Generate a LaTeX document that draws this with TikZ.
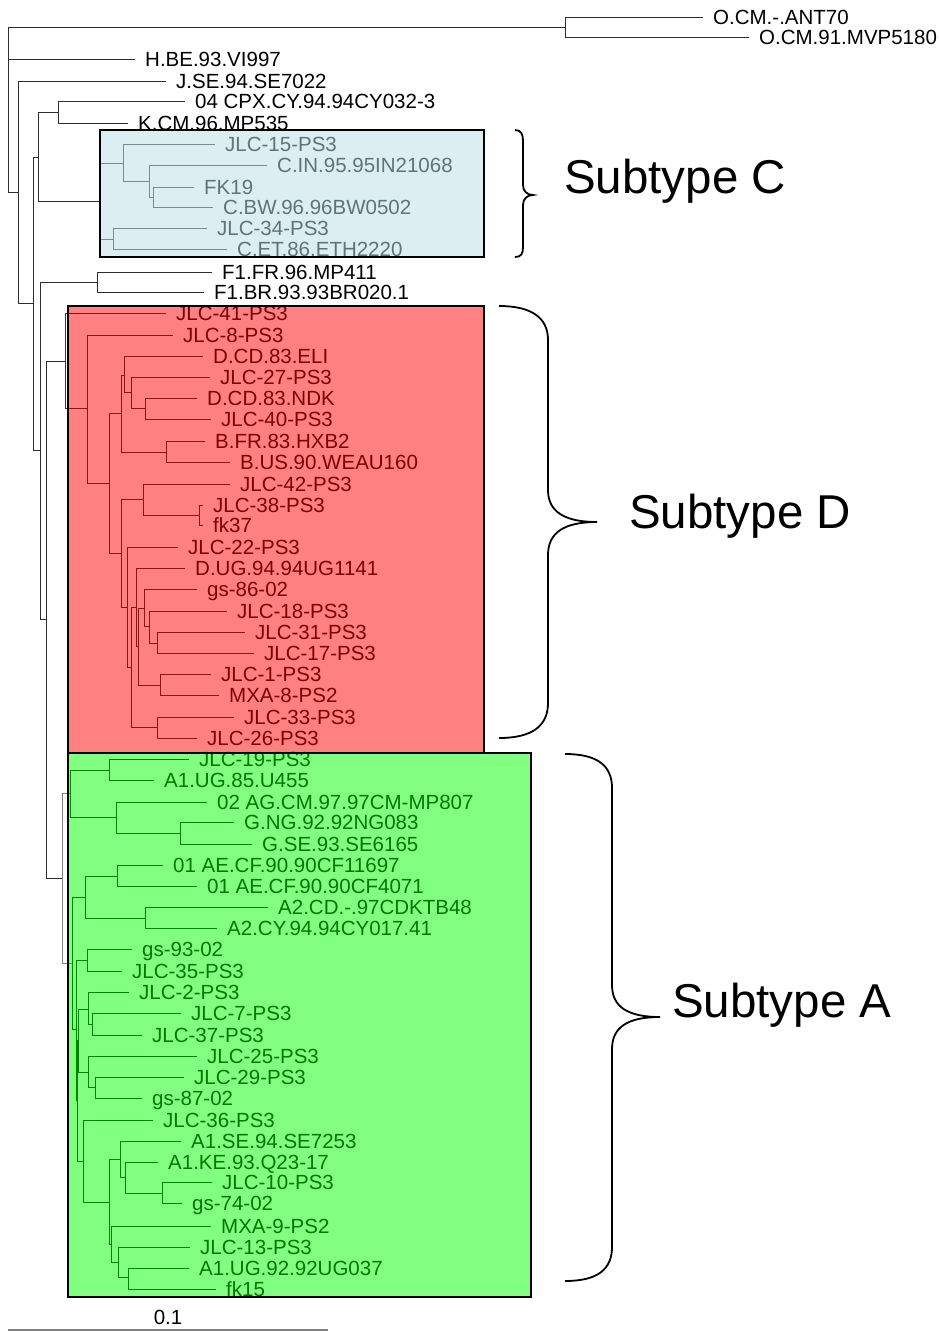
\documentclass[tikz,border=0pt]{standalone}
\usepackage{fontspec}
\setmainfont{Liberation Sans}
\definecolor{cfill}{RGB}{221,238,243}
\definecolor{dfill}{RGB}{255,128,128}
\definecolor{afill}{RGB}{128,255,128}
\definecolor{ctext}{RGB}{95,115,120}
\definecolor{cline}{RGB}{120,140,145}
\definecolor{dtext}{RGB}{128,0,0}
\definecolor{dline}{RGB}{140,20,20}
\definecolor{atext}{RGB}{0,120,0}
\definecolor{aline}{RGB}{0,135,0}
\definecolor{kline}{RGB}{45,45,45}
\begin{document}
\begin{tikzpicture}[x=1pt,y=-1pt,
  lab/.style={anchor=west,inner xsep=10pt,inner ysep=0pt,text height=14.7pt,text depth=0pt,font=\fontsize{20.5}{24}\selectfont},
  labk/.style={lab,text=black},
  labc/.style={lab,text=ctext},
  labd/.style={lab,text=dtext},
  laba/.style={lab,text=atext},
  ek/.style={draw=kline,line width=1pt},
  eg/.style={draw=gray,line width=1pt},
  ec/.style={draw=cline,line width=1pt},
  ed/.style={draw=dline,line width=1pt},
  ea/.style={draw=aline,line width=1pt},
  boxc/.style={fill=cfill},
  boxd/.style={fill=dfill},
  boxa/.style={fill=afill},
  border/.style={draw=black,line width=2pt},
  bracestyle/.style={draw=black,line width=1.8pt},
  big/.style={anchor=base west,inner sep=0pt,font=\fontsize{47.5}{56}\selectfont}
]
\useasboundingbox (0,0) rectangle (939,1331);
% box fills
\path[boxc] (100,130) rectangle (484,257);
\path[boxd] (68,306) rectangle (484,753);
\path[boxa] (68,753) rectangle (531,1297);

% ---------- outer (black) part ----------
\coordinate (r) at (8,110);
\coordinate (O) at (565,27);
\node[labk] (ant) at (703,17) {O.CM.-.ANT70};
\node[labk] (mvp) at (749,37) {O.CM.91.MVP5180};
\node[labk] (hbe) at (135,59) {H.BE.93.VI997};
\coordinate (n1) at (18,192);
\node[labk] (jse) at (166,81) {J.SE.94.SE7022};
\coordinate (n2) at (33,303);
\coordinate (n3) at (38,157);
\coordinate (ck) at (58,112);
\node[labk] (cpx) at (185,101) {04 CPX.CY.94.94CY032-3};
\node[labk] (kcm) at (128,123) {K.CM.96.MP535};
\coordinate (n4) at (40,450);
\coordinate (f1) at (97,282);
\node[labk] (f1fr) at (212,272) {F1.FR.96.MP411};
\node[labk] (f1br) at (204,292) {F1.BR.93.93BR020.1};
\coordinate (n5) at (46,619);

% ---------- subtype C ----------
\coordinate (cc) at (100,201);
\coordinate (ca) at (123,163);
\node[labc] (jlc15) at (215,144) {JLC-15-PS3};
\coordinate (cb) at (149,181);
\node[labc] (cin) at (267,165) {C.IN.95.95IN21068};
\coordinate (cd) at (153,197);
\node[labc] (fk19) at (194,187) {FK19};
\node[labc] (cbw) at (213,207) {C.BW.96.96BW0502};
\coordinate (ce) at (113,239);
\node[labc] (jlc34) at (207,228) {JLC-34-PS3};
\node[labc] (cet) at (227,249) {C.ET.86.ETH2220};

% ---------- subtype D ----------
\coordinate (dr) at (65,361);
\node[labd] (jlc41) at (166,313) {JLC-41-PS3};
\coordinate (da) at (87,408);
\node[labd] (jlc8) at (173,335) {JLC-8-PS3};
\coordinate (db) at (109,483);
\coordinate (dc) at (121,413);
\coordinate (dd) at (124,375);
\node[labd] (eli) at (203,356) {D.CD.83.ELI};
\coordinate (de) at (131,392);
\node[labd] (jlc27) at (210,377) {JLC-27-PS3};
\coordinate (df) at (145,408);
\node[labd] (ndk) at (197,398) {D.CD.83.NDK};
\node[labd] (jlc40) at (211,419) {JLC-40-PS3};
\coordinate (dg) at (166,452);
\node[labd] (hxb2) at (205,441) {B.FR.83.HXB2};
\node[labd] (weau) at (230,462) {B.US.90.WEAU160};
\coordinate (dh) at (121,553);
\coordinate (di) at (143,499);
\node[labd] (jlc42) at (230,484) {JLC-42-PS3};
\coordinate (dj) at (199,515);
\node[labd] (jlc38) at (203,505) {JLC-38-PS3};
\node[labd] (fk37) at (203,525) {fk37};
\coordinate (dk) at (127,607);
\node[labd] (jlc22) at (178,547) {JLC-22-PS3};
\coordinate (dl) at (131,667);
\coordinate (dm) at (136,607);
\node[labd] (dug) at (185,568) {D.UG.94.94UG1141};
\coordinate (dn) at (138,646);
\coordinate (do) at (144,608);
\node[labd] (gs86) at (197,589) {gs-86-02};
\coordinate (dp) at (149,626);
\node[labd] (jlc18) at (227,611) {JLC-18-PS3};
\coordinate (dq) at (157,643);
\node[labd] (jlc31) at (245,632) {JLC-31-PS3};
\node[labd] (jlc17) at (254,653) {JLC-17-PS3};
\coordinate (dr2) at (160,685);
\node[labd] (jlc1) at (211,674) {JLC-1-PS3};
\node[labd] (mxa8) at (219,695) {MXA-8-PS2};
\coordinate (ds) at (157,727);
\node[labd] (jlc33) at (234,717) {JLC-33-PS3};
\node[labd] (jlc26) at (197,738) {JLC-26-PS3};

% ---------- subtype A ----------
\coordinate (ar) at (62,878);
\coordinate (aa) at (70,793);
\coordinate (ab) at (109,770);
\node[laba] (jlc19) at (189,759) {JLC-19-PS3};
\node[laba] (u455) at (154,780) {A1.UG.85.U455};
\coordinate (ac) at (116,817);
\node[laba] (ag) at (207,802) {02 AG.CM.97.97CM-MP807};
\coordinate (ad) at (180,833);
\node[laba] (gng) at (234,822) {G.NG.92.92NG083};
\node[laba] (gse) at (252,844) {G.SE.93.SE6165};
\coordinate (c0) at (72,963);
\coordinate (b7) at (85,897);
\coordinate (b5) at (117,876);
\node[laba] (ae1) at (163,865) {01 AE.CF.90.90CF11697};
\node[laba] (ae2) at (197,886) {01 AE.CF.90.90CF4071};
\coordinate (b6) at (145,918);
\node[laba] (a2cd) at (268,907) {A2.CD.-.97CDKTB48};
\node[laba] (a2cy) at (217,928) {A2.CY.94.94CY017.41};
\coordinate (c1) at (76,1029);
\coordinate (c2) at (87,960);
\node[laba] (gs93) at (132,949) {gs-93-02};
\node[laba] (jlc35) at (122,971) {JLC-35-PS3};
\coordinate (e2) at (77,1100);
\coordinate (e1) at (78,1040);
\coordinate (g2) at (88,1009);
\node[laba] (jlc2) at (129,992) {JLC-2-PS3};
\coordinate (g3) at (92,1024);
\node[laba] (jlc7) at (181,1013) {JLC-7-PS3};
\node[laba] (jlc37) at (142,1035) {JLC-37-PS3};
\coordinate (g4) at (88,1072);
\node[laba] (jlc25) at (197,1056) {JLC-25-PS3};
\coordinate (g5) at (95,1087);
\node[laba] (jlc29) at (184,1077) {JLC-29-PS3};
\node[laba] (gs87) at (142,1098) {gs-87-02};
\coordinate (d0) at (83,1161);
\node[laba] (jlc36) at (153,1120) {JLC-36-PS3};
\coordinate (d1) at (109,1202);
\coordinate (d2) at (120,1159);
\node[laba] (a1se) at (181,1141) {A1.SE.94.SE7253};
\coordinate (d3) at (125,1177);
\node[laba] (a1ke) at (158,1162) {A1.KE.93.Q23-17};
\coordinate (d4) at (162,1193);
\node[laba] (jlc10) at (212,1182) {JLC-10-PS3};
\node[laba] (gs74) at (182,1203) {gs-74-02};
\coordinate (d5) at (111,1244);
\node[laba] (mxa9) at (211,1226) {MXA-9-PS2};
\coordinate (d6) at (118,1262);
\node[laba] (jlc13) at (190,1247) {JLC-13-PS3};
\coordinate (d7) at (128,1277);
\node[laba] (a1ug) at (189,1268) {A1.UG.92.92UG037};
\node[laba] (fk15) at (216,1289) {fk15};

% ---------- edges ----------
\foreach \p/\c in {r/O, O/ant.west, O/mvp.west, r/hbe.west, r/n1, n1/jse.west, n1/n2,
  n2/n3, n2/n4, n3/ck, ck/cpx.west, ck/kcm.west, n3/cc, n4/f1, f1/f1fr.west, f1/f1br.west,
  n4/n5, n5/dr, n5/ar}
  \draw[ek] (\p) |- (\c);
\foreach \p/\c in {ar/aa, ar/c0}
  \draw[eg] (\p) |- (\c);
\foreach \p/\c in {cc/ca, ca/jlc15.west, ca/cb, cb/cin.west, cb/cd, cd/fk19.west, cd/cbw.west,
  cc/ce, ce/jlc34.west, ce/cet.west}
  \draw[ec] (\p) |- (\c);
\foreach \p/\c in {dr/jlc41.west, dr/da, da/jlc8.west, da/db, db/dc, dc/dd, dd/eli.west, dd/de,
  de/jlc27.west, de/df, df/ndk.west, df/jlc40.west, dc/dg, dg/hxb2.west, dg/weau.west,
  db/dh, dh/di, di/jlc42.west, di/dj, dj/jlc38.west, dj/fk37.west, dh/dk, dk/jlc22.west,
  dk/dl, dl/dm, dm/dug.west, dm/dn, dn/do, do/gs86.west, do/dp, dp/jlc18.west, dp/dq,
  dq/jlc31.west, dq/jlc17.west, dn/dr2, dr2/jlc1.west, dr2/mxa8.west, dl/ds,
  ds/jlc33.west, ds/jlc26.west}
  \draw[ed] (\p) |- (\c);
\foreach \p/\c in {aa/ab, ab/jlc19.west, ab/u455.west, aa/ac, ac/ag.west, ac/ad,
  ad/gng.west, ad/gse.west, c0/b7, b7/b5, b5/ae1.west, b5/ae2.west, b7/b6,
  b6/a2cd.west, b6/a2cy.west, c0/c1, c1/c2, c2/gs93.west, c2/jlc35.west, c1/e2,
  e2/e1, e1/g2, g2/jlc2.west, g2/g3, g3/jlc7.west, g3/jlc37.west, e1/g4,
  g4/jlc25.west, g4/g5, g5/jlc29.west, g5/gs87.west, e2/d0, d0/jlc36.west, d0/d1,
  d1/d2, d2/a1se.west, d2/d3, d3/a1ke.west, d3/d4, d4/jlc10.west, d4/gs74.west,
  d1/d5, d5/mxa9.west, d5/d6, d6/jlc13.west, d6/d7, d7/a1ug.west, d7/fk15.west}
  \draw[ea] (\p) |- (\c);

% box borders
\draw[border] (100,130) rectangle (484,257);
\draw[border] (68,306) rectangle (484,753);
\draw[border] (68,753) rectangle (531,1297);

% braces
\draw[bracestyle] (515,130) .. controls (521,130) and (523,134) .. (523,141) -- (523,185)
  .. controls (523,191) and (527,195) .. (533,195)
  .. controls (527,195) and (523,199) .. (523,205) -- (523,247)
  .. controls (523,254) and (521,257) .. (515,257);
\draw[bracestyle] (499,306) .. controls (532,306) and (548,318) .. (548,340) -- (548,490)
  .. controls (548,512) and (565,522) .. (597,522)
  .. controls (565,522) and (548,532) .. (548,555) -- (548,703)
  .. controls (548,726) and (532,738) .. (499,738);
\draw[bracestyle] (565,754) .. controls (598,754) and (612,766) .. (612,788) -- (612,985)
  .. controls (612,1007) and (628,1017) .. (660,1017)
  .. controls (628,1017) and (612,1027) .. (612,1049) -- (612,1247)
  .. controls (612,1269) and (598,1281) .. (565,1281);

\node[big] (stc) at (564,193) {Subtype C};
\node[big] (std) at (629,528) {Subtype D};
\node[big] (sta) at (672,1017) {Subtype A};

% scale bar
\coordinate (sb1) at (8,1330);
\coordinate (sb2) at (328,1330);
\draw[draw=gray,line width=1.2pt] (sb1) -- (sb2);
\node[anchor=base,inner sep=0pt,font=\fontsize{20.5}{24}\selectfont] (sbl) at (168,1324) {0.1};
\end{tikzpicture}
\end{document}
